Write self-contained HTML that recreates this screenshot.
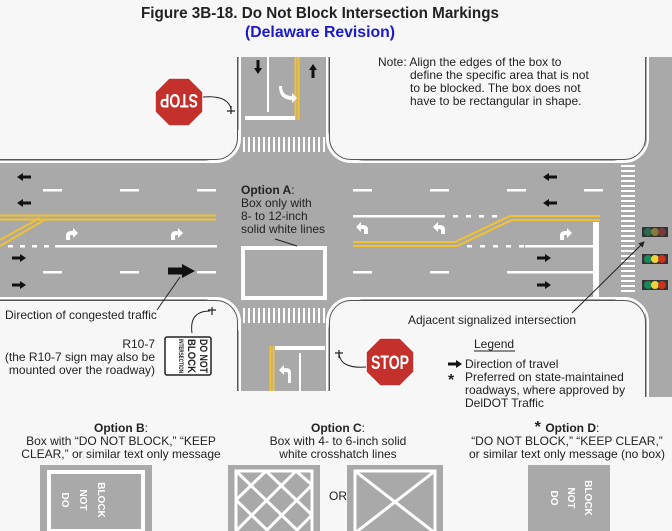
<!DOCTYPE html>
<html><head><meta charset="utf-8"><style>
html,body{margin:0;padding:0;background:#f7f7f7}
svg{display:block}
text{font-family:"Liberation Sans",sans-serif;fill:#222}
</style></head><body>
<svg width="672" height="531" viewBox="0 0 672 531" xmlns="http://www.w3.org/2000/svg">
<defs>
<marker id="ah" markerWidth="6" markerHeight="6" refX="5" refY="3" orient="auto"><path d="M0,0 L6,3 L0,6 z" fill="#222"/></marker>
<g id="arR"><rect x="-8" y="-1.5" width="9" height="3" fill="#111"/><path d="M0,-4 L6,0 L0,4z" fill="#111"/></g>
<g id="arL"><use href="#arR" transform="scale(-1,1)"/></g>
</defs>
<rect width="672" height="531" fill="#f7f7f7"/>
<!-- titles -->
<text x="320" y="18" font-size="16" font-weight="bold" text-anchor="middle" textLength="358" lengthAdjust="spacingAndGlyphs">Figure 3B-18.  Do Not Block Intersection Markings</text>
<text x="320" y="37" font-size="16" font-weight="bold" text-anchor="middle" style="fill:#1a1acc" textLength="150" lengthAdjust="spacingAndGlyphs">(Delaware Revision)</text>

<!-- roads -->
<g fill="#a9a9a9">
<rect x="0" y="160" width="672" height="140"/>
<rect x="238" y="57" width="92" height="334"/>
<rect x="645" y="57" width="27" height="340"/>
<rect x="216" y="138" width="136" height="24"/>
<rect x="216" y="298" width="136" height="24"/>
<rect x="624" y="138" width="24" height="24"/>
<rect x="624" y="298" width="24" height="24"/>
</g>
<g fill="#f7f7f7">
<circle cx="216" cy="138" r="24"/><circle cx="352" cy="138" r="24"/>
<circle cx="216" cy="322" r="24"/><circle cx="352" cy="322" r="24"/>
<circle cx="624" cy="138" r="24"/><circle cx="624" cy="322" r="24"/>
</g>
<rect x="645" y="57" width="27" height="340" fill="#a9a9a9"/>
<!-- curb lines -->
<g fill="none" stroke="#fff" stroke-width="2">
<path d="M0,162 H216 A24,24 0 0 0 240,138 V57"/>
<path d="M327,57 V138 A24,24 0 0 0 351,162 H624 A24,24 0 0 0 648,138 V57"/>
<path d="M0,298 H216 A24,24 0 0 1 240,322 V391"/>
<path d="M327,391 V322 A24,24 0 0 1 351,298 H624 A24,24 0 0 1 648,322 V397"/>
</g>
<g fill="none" stroke="#555" stroke-width="1">
<path d="M0,159.5 H216 A21.5,21.5 0 0 0 237.5,138 V57"/>
<path d="M329.5,57 V138 A21.5,21.5 0 0 0 351,159.5 H624 A21.5,21.5 0 0 0 645.5,138 V57"/>
<path d="M0,300.5 H216 A21.5,21.5 0 0 1 237.5,322 V391"/>
<path d="M329.5,391 V322 A21.5,21.5 0 0 1 351,300.5 H624 A21.5,21.5 0 0 1 645.5,322 V397"/>
</g>

<!-- top road markings -->
<line x1="268" y1="57" x2="268" y2="112" stroke="#fff" stroke-width="2"/>
<line x1="295.5" y1="57" x2="295.5" y2="120" stroke="#f2c230" stroke-width="2"/>
<line x1="298.5" y1="57" x2="298.5" y2="120" stroke="#f2c230" stroke-width="2"/>
<rect x="245" y="116" width="50" height="4" fill="#fff"/>
<g stroke="#fff" stroke-width="2">
<path d="M244,137v15M249,137v15M254,137v15M259,137v15M264,137v15M269,137v15M274,137v15M279,137v15M284,137v15M289,137v15M294,137v15M299,137v15M304,137v15M309,137v15M314,137v15M319,137v15M324,137v15"/>
<path d="M244,308v15M249,308v15M254,308v15M259,308v15M264,308v15M269,308v15M274,308v15M279,308v15M284,308v15M289,308v15M294,308v15M299,308v15M304,308v15M309,308v15M314,308v15M319,308v15M324,308v15"/>
<path d="M621,166h14M621,171h14M621,176h14M621,181h14M621,186h14M621,191h14M621,196h14M621,201h14M621,206h14M621,211h14M621,216h14M621,221h14M621,226h14M621,231h14M621,236h14M621,241h14M621,246h14M621,251h14M621,256h14M621,261h14M621,266h14M621,271h14M621,276h14M621,281h14M621,286h14M621,291h14"/>
</g>
<use href="#arR" transform="translate(258,68) rotate(90)"/>
<use href="#arR" transform="translate(313,70) rotate(-90)"/>
<path d="M282,86 q0,10 10,10 v-3 l5,5 -5,5 v-3 q-13,0 -13,-14z" fill="#fff"/>

<!-- bottom road markings -->
<line x1="270.5" y1="346" x2="270.5" y2="391" stroke="#f2c230" stroke-width="2"/>
<line x1="273.5" y1="346" x2="273.5" y2="391" stroke="#f2c230" stroke-width="2"/>
<rect x="275" y="346" width="50" height="4" fill="#fff"/>
<line x1="300" y1="353" x2="300" y2="391" stroke="#fff" stroke-width="2"/>
<path d="M291,383 v-10 q0,-5 -5,-5 h-2 v-3 l-5,5 5,5 v-3 h2 q2,0 2,2 v9z" fill="#fff"/>

<!-- horizontal road markings left -->
<g fill="#fff">
<rect x="43" y="189" width="19" height="2.5"/><rect x="120" y="189" width="19" height="2.5"/><rect x="197" y="189" width="19" height="2.5"/>
<rect x="43" y="271" width="19" height="2.5"/><rect x="120" y="271" width="19" height="2.5"/><rect x="197" y="271" width="19" height="2.5"/>
<rect x="8" y="245" width="5" height="2.5"/><rect x="20" y="245" width="5" height="2.5"/><rect x="32" y="245" width="5" height="2.5"/><rect x="44" y="245" width="5" height="2.5"/>
<rect x="55" y="245" width="162" height="2.5"/>
</g>
<g stroke="#f2c230" stroke-width="2" fill="none">
<path d="M0,215.5 H216 M0,219.5 H216"/>
<path d="M0,240 L40,218 M0,246 L46,219"/>
</g>
<rect x="243" y="248" width="82" height="50" fill="none" stroke="#fff" stroke-width="4"/>
<use href="#arL" transform="translate(23,177)"/>
<use href="#arL" transform="translate(23,203)"/>
<use href="#arR" transform="translate(20,258)"/>
<use href="#arR" transform="translate(20,285)"/>
<g transform="translate(182,271)"><rect x="-14" y="-3.5" width="16" height="7" fill="#111"/><path d="M0,-7 L13,0 L0,7z" fill="#111"/></g>
<path d="M66,240 v-4 q0,-5 5,-5 h2 v-3 l5,5 -5,5 v-3 h-2 q-1,0 -1,1 v4z" fill="#fff"/>
<path d="M171,240 v-4 q0,-5 5,-5 h2 v-3 l5,5 -5,5 v-3 h-2 q-1,0 -1,1 v4z" fill="#fff"/>

<!-- right section markings -->
<g fill="#fff">
<rect x="353" y="189" width="19" height="2.5"/><rect x="430" y="189" width="19" height="2.5"/><rect x="507" y="189" width="19" height="2.5"/><rect x="584" y="189" width="19" height="2.5"/>
<rect x="353" y="271" width="19" height="2.5"/><rect x="430" y="271" width="19" height="2.5"/>
<rect x="507" y="271" width="90" height="2.5"/>
<rect x="353" y="215" width="92" height="2.5"/>
<rect x="453" y="215" width="5" height="2.5"/><rect x="466" y="215" width="5" height="2.5"/><rect x="479" y="215" width="5" height="2.5"/><rect x="492" y="215" width="5" height="2.5"/>
<rect x="467" y="245" width="5" height="2.5"/><rect x="480" y="245" width="5" height="2.5"/><rect x="493" y="245" width="5" height="2.5"/><rect x="506" y="245" width="5" height="2.5"/><rect x="519" y="245" width="5" height="2.5"/>
<rect x="525" y="245" width="72" height="2.5"/>
<rect x="593" y="222" width="6" height="75"/>
</g>
<g stroke="#f2c230" stroke-width="2" fill="none">
<path d="M353,242 H455 L510,216 H600"/>
<path d="M353,246 H457 L512,220 H600"/>
</g>
<use href="#arL" transform="translate(549,177)"/>
<use href="#arL" transform="translate(549,203)"/>
<use href="#arR" transform="translate(545,258)"/>
<use href="#arR" transform="translate(545,285)"/>
<path d="M368,234 v-4 q0,-5 -5,-5 h-2 v-3 l-5,5 5,5 v-3 h2 q1,0 1,1 v4z" fill="#fff"/>
<path d="M445,234 v-4 q0,-5 -5,-5 h-2 v-3 l-5,5 5,5 v-3 h2 q1,0 1,1 v4z" fill="#fff"/>
<path d="M560,240 v-4 q0,-5 5,-5 h2 v-3 l5,5 -5,5 v-3 h-2 q-1,0 -1,1 v4z" fill="#fff"/>

<!-- signals -->
<g><rect x="642" y="227" width="26" height="10" fill="#333"/><circle cx="648" cy="232" r="4" fill="#2a6b4e"/><circle cx="655" cy="232" r="4" fill="#8a7a3a"/><circle cx="662" cy="232" r="4" fill="#7a3a3a"/></g>
<g><rect x="642" y="254" width="26" height="10" fill="#333"/><circle cx="648" cy="259" r="4" fill="#1a8a5a"/><circle cx="655" cy="259" r="4" fill="#f2d23a"/><circle cx="662" cy="259" r="4" fill="#c8331f"/></g>
<g><rect x="642" y="280" width="26" height="10" fill="#333"/><circle cx="648" cy="285" r="4" fill="#1a8a5a"/><circle cx="655" cy="285" r="4" fill="#f2d23a"/><circle cx="662" cy="285" r="4" fill="#c8331f"/></g>

<!-- STOP signs -->
<g transform="translate(179,102)">
<polygon points="-10,-24 10,-24 24,-10 24,10 10,24 -10,24 -24,10 -24,-10" fill="#c4302b" stroke="#fff" stroke-width="1.5"/>
<text x="0" y="8" transform="rotate(180)" font-size="19" font-weight="bold" text-anchor="middle" style="fill:#fff" textLength="38" lengthAdjust="spacingAndGlyphs">STOP</text>
</g>
<path d="M203,97 q25,-2 28,12" fill="none" stroke="#222" stroke-width="1"/>
<path d="M231,106 v8 M227,111 h8" stroke="#222" stroke-width="1.2"/>
<g transform="translate(390,362)">
<polygon points="-10,-24 10,-24 24,-10 24,10 10,24 -10,24 -24,10 -24,-10" fill="#c4302b" stroke="#fff" stroke-width="1.5"/>
<text x="0" y="7" font-size="19" font-weight="bold" text-anchor="middle" style="fill:#fff" textLength="38" lengthAdjust="spacingAndGlyphs">STOP</text>
</g>
<path d="M366,367 q-26,2 -27,-14" fill="none" stroke="#222" stroke-width="1"/>
<path d="M339,350 v8 M335,353 h8" stroke="#222" stroke-width="1.2"/>
<!-- R10-7 -->
<rect x="165" y="337" width="46" height="38" fill="#fff" stroke="#222" stroke-width="1.5" rx="2"/>
<g transform="translate(188,356) rotate(90)">
<text x="0" y="-12" font-size="11" font-weight="bold" text-anchor="middle" textLength="34" lengthAdjust="spacingAndGlyphs">DO NOT</text>
<text x="0" y="0" font-size="11" font-weight="bold" text-anchor="middle" textLength="34" lengthAdjust="spacingAndGlyphs">BLOCK</text>
<text x="0" y="9" font-size="6" font-weight="bold" text-anchor="middle" textLength="34" lengthAdjust="spacingAndGlyphs">INTERSECTION</text>
</g>
<path d="M192,333 q-3,-22 18,-22" fill="none" stroke="#222" stroke-width="1"/>
<path d="M212,307 v8 M208,310 h8" stroke="#222" stroke-width="1.2"/>

<!-- labels -->
<text x="241" y="194" font-size="12" font-weight="bold">Option A<tspan font-weight="normal">:</tspan></text>
<text x="241" y="207" font-size="12">Box only with</text>
<text x="241" y="220" font-size="12">8- to 12-inch</text>
<text x="241" y="233" font-size="12">solid white lines</text>
<line x1="275" y1="239" x2="297" y2="246" stroke="#222"/>
<text x="5" y="319" font-size="12">Direction of congested traffic</text>
<line x1="157" y1="310" x2="180" y2="277" stroke="#222"/>
<text x="155" y="348" font-size="12" text-anchor="end">R10-7</text>
<text x="155" y="361" font-size="12" text-anchor="end">(the R10-7 sign may also be</text>
<text x="155" y="374" font-size="12" text-anchor="end">mounted over the roadway)</text>
<text x="408" y="324" font-size="12">Adjacent signalized intersection</text>
<line x1="572" y1="313" x2="644" y2="242" stroke="#222" marker-end="url(#ah)"/>
<text x="378" y="66" font-size="12">Note: Align the edges of the box to</text>
<text x="410" y="79" font-size="12">define the specific area that is not</text>
<text x="410" y="92" font-size="12">to be blocked.  The box does not</text>
<text x="410" y="105" font-size="12">have to be rectangular in shape.</text>
<text x="474" y="348" font-size="12">Legend</text>
<line x1="474" y1="351" x2="515" y2="351" stroke="#222"/>
<use href="#arR" transform="translate(456,364)"/>
<text x="465" y="368" font-size="12">Direction of travel</text>
<text x="448" y="385" font-size="16" font-weight="bold">*</text>
<text x="465" y="381" font-size="12">Preferred on state-maintained</text>
<text x="465" y="394" font-size="12">roadways, where approved by</text>
<text x="465" y="407" font-size="12">DelDOT Traffic</text>

<!-- bottom options -->
<text x="121" y="432" font-size="12" text-anchor="middle"><tspan font-weight="bold">Option B</tspan>:</text>
<text x="121" y="445" font-size="12" text-anchor="middle">Box with “DO NOT BLOCK,” “KEEP</text>
<text x="121" y="458" font-size="12" text-anchor="middle">CLEAR,” or similar text only message</text>
<text x="338" y="432" font-size="12" text-anchor="middle"><tspan font-weight="bold">Option C</tspan>:</text>
<text x="338" y="445" font-size="12" text-anchor="middle">Box with 4- to 6-inch solid</text>
<text x="338" y="458" font-size="12" text-anchor="middle">white crosshatch lines</text>
<text x="567" y="432" font-size="12" text-anchor="middle"><tspan font-weight="bold" font-size="16">* </tspan><tspan font-weight="bold">Option D</tspan>:</text>
<text x="567" y="445" font-size="12" text-anchor="middle">“DO NOT BLOCK,” “KEEP CLEAR,”</text>
<text x="567" y="458" font-size="12" text-anchor="middle">or similar text only message (no box)</text>

<rect x="40" y="465" width="112" height="66" fill="#a9a9a9"/>
<rect x="49" y="472" width="94" height="59" fill="none" stroke="#fff" stroke-width="4"/>
<g font-weight="bold" font-size="10">
<text transform="translate(62,500) rotate(90)" text-anchor="middle" style="fill:#fff">DO</text>
<text transform="translate(80,500) rotate(90)" text-anchor="middle" style="fill:#fff">NOT</text>
<text transform="translate(98,500) rotate(90)" text-anchor="middle" style="fill:#fff">BLOCK</text>
</g>
<rect x="228" y="465" width="92" height="66" fill="#a9a9a9"/>
<g stroke="#fff" stroke-width="3" fill="none">
<rect x="236" y="471" width="76" height="62"/>
<path d="M236,500 L266,471 M236,531 L296,471 M266,531 L312,485 M296,531 L312,515 M236,500 L268,531 M236,471 L298,531 M266,471 L312,515 M296,471 L312,485"/>
</g>
<text x="338" y="500" font-size="12" text-anchor="middle">OR</text>
<rect x="347" y="465" width="96" height="66" fill="#a9a9a9"/>
<g stroke="#fff" stroke-width="3" fill="none">
<rect x="355" y="471" width="80" height="62"/>
<path d="M355,471 L435,533 M435,471 L355,533"/>
</g>
<rect x="528" y="465" width="82" height="66" fill="#a9a9a9"/>
<g font-weight="bold" font-size="10">
<text transform="translate(551,498) rotate(90)" text-anchor="middle" style="fill:#fff">DO</text>
<text transform="translate(568,498) rotate(90)" text-anchor="middle" style="fill:#fff">NOT</text>
<text transform="translate(585,498) rotate(90)" text-anchor="middle" style="fill:#fff">BLOCK</text>
</g>
</svg>
</body></html>
